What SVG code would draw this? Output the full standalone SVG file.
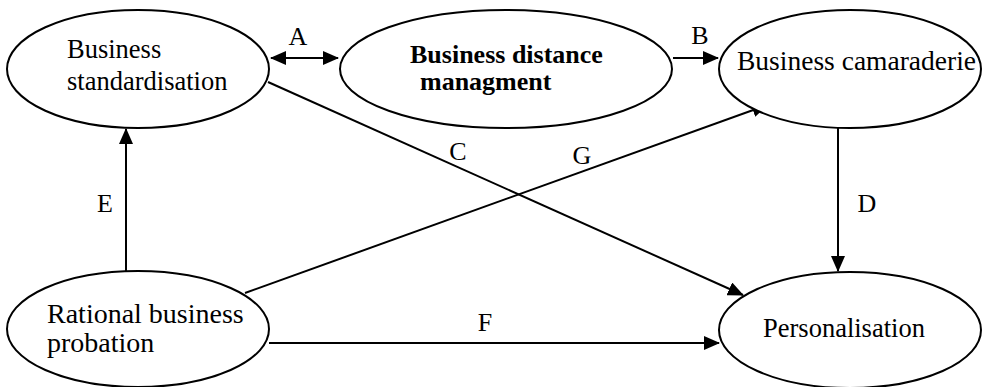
<svg xmlns="http://www.w3.org/2000/svg" width="982" height="387" viewBox="0 0 982 387">
<style>
.node ellipse{fill:#fff;stroke:#000;stroke-width:2}
.t{font-family:"Liberation Serif","Times New Roman",serif;font-size:26.5px;fill:#000}
.l{font-size:26px}
.b{font-weight:bold;font-size:26px}
.c line{stroke:#000;stroke-width:2;fill:none}
</style>
<defs>
<marker id="ah" markerUnits="userSpaceOnUse" markerWidth="16" markerHeight="14" refX="15" refY="7" orient="auto-start-reverse" viewBox="0 0 16 14">
<path d="M0,0 L16,7 L0,14 Z" fill="#000"/>
</marker>
</defs>
<g id="connectors" class="c">
<line x1="271" y1="58" x2="338" y2="58" marker-start="url(#ah)" marker-end="url(#ah)"/>
<line x1="673" y1="58" x2="718" y2="58" marker-end="url(#ah)"/>
<line x1="268" y1="82" x2="743" y2="295" marker-end="url(#ah)"/>
<line x1="245" y1="293" x2="767" y2="105" marker-end="url(#ah)"/>
<line x1="838" y1="128" x2="838" y2="271" marker-end="url(#ah)"/>
<line x1="126" y1="271" x2="126" y2="129" marker-end="url(#ah)"/>
<line x1="269" y1="343" x2="719" y2="343" marker-end="url(#ah)"/>
<text class="t l" x="298" y="45" text-anchor="middle">A</text>
<text class="t l" x="700" y="44" text-anchor="middle">B</text>
<text class="t l" x="458" y="160" text-anchor="middle">C</text>
<text class="t l" x="582" y="164" text-anchor="middle">G</text>
<text class="t l" x="867" y="212" text-anchor="middle">D</text>
<text class="t l" x="105" y="212" text-anchor="middle">E</text>
<text class="t l" x="485" y="331" text-anchor="middle">F</text>
</g>
<g id="n1" class="node">
<ellipse cx="138" cy="69" rx="131" ry="59"/>
<text class="t" x="67" y="58">Business</text>
<text class="t" x="67" y="90">standardisation</text>
</g>
<g id="n2" class="node">
<ellipse cx="506" cy="69" rx="166" ry="59"/>
<text class="t b" x="410" y="63">Business distance</text>
<text class="t b" x="420" y="90">managment</text>
</g>
<g id="n3" class="node">
<ellipse cx="850" cy="69" rx="131" ry="59"/>
<text class="t" x="737" y="70" style="font-size:27.5px">Business camaraderie</text>
</g>
<g id="n4" class="node">
<ellipse cx="138" cy="329" rx="131" ry="58"/>
<text class="t" x="47" y="323" style="font-size:28px">Rational business</text>
<text class="t" x="47" y="352" style="font-size:28px">probation</text>
</g>
<g id="n5" class="node">
<ellipse cx="850" cy="330" rx="131" ry="58"/>
<text class="t" x="763" y="337">Personalisation</text>
</g>
</svg>
